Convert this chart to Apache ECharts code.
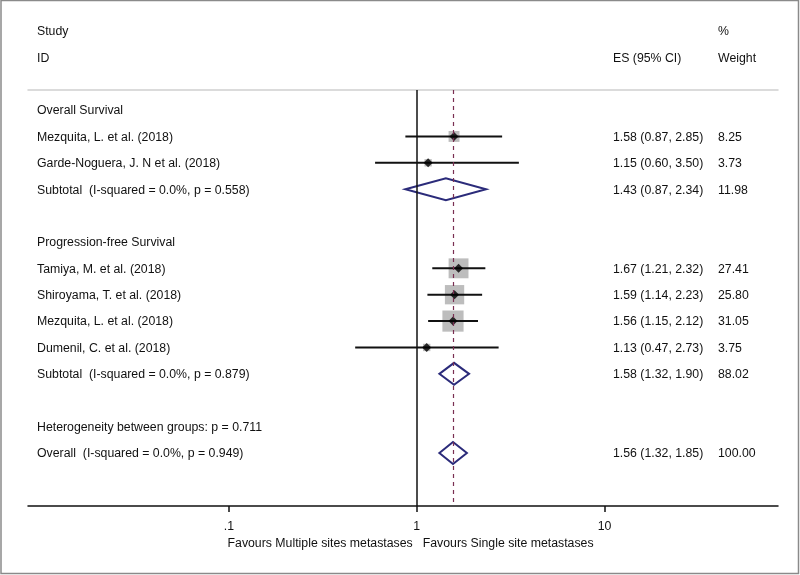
<!DOCTYPE html>
<html><head><meta charset="utf-8">
<script src="https://cdn.jsdelivr.net/npm/echarts@6/dist/echarts.min.js"></script>
<style>html,body{margin:0;padding:0;background:#fff}#c{width:800px;height:575px}</style>
</head><body><div id="c"></div>
<script>
// ---- data ----
const rowLabels = ['Overall Survival','Mezquita, L. et al. (2018)','Garde-Noguera, J. N et al. (2018)',
  'Subtotal  (I-squared = 0.0%, p = 0.558)','','Progression-free Survival','Tamiya, M. et al. (2018)',
  'Shiroyama, T. et al. (2018)','Mezquita, L. et al. (2018)','Dumenil, C. et al. (2018)',
  'Subtotal  (I-squared = 0.0%, p = 0.879)','','Heterogeneity between groups: p = 0.711',
  'Overall  (I-squared = 0.0%, p = 0.949)'];
const rowKind = ['head','study','study','pooled','blank','head','study','study','study','study','pooled','blank','head','pooled'];
const es     = [null,1.58,1.15,1.43,null,null,1.67,1.59,1.56,1.13,1.58,null,null,1.56];
const ciLow  = [null,0.87,0.60,0.87,null,null,1.21,1.14,1.15,0.47,1.32,null,null,1.32];
const ciHigh = [null,2.85,3.50,2.34,null,null,2.32,2.23,2.12,2.73,1.90,null,null,1.85];
const weight = [null,8.25,3.73,11.98,null,null,27.41,25.80,31.05,3.75,88.02,null,null,100.00];
const overallES = 1.56;
const tickValues = [0.1, 1, 10];
const tickLabels = ['.1', '1', '10'];
const headerStudy = ['Study', 'ID'];
const headerES = 'ES (95% CI)';
const headerWeight = ['%', 'Weight'];
const favoursLeft = 'Favours Multiple sites metastases';
const favoursRight = 'Favours Single site metastases';

// ---- chart ----
const FONT = "'Liberation Sans', Arial, sans-serif";
const FS = 12.3;
const TXT = '#111';
const chart = echarts.init(document.getElementById('c'), null, {renderer: 'canvas'});

const studyRows = [], pooledRows = [];
rowKind.forEach((k, i) => {
  if (k === 'study') studyRows.push([es[i], i, ciLow[i], ciHigh[i], weight[i]]);
  if (k === 'pooled') pooledRows.push([es[i], i, ciLow[i], ciHigh[i], weight[i]]);
});

const XMIN = 0.0085, XMAX = 84;
const option = {
  animation: false,
  backgroundColor: '#fff',
  grid: {left: 28, right: 22, top: 90, bottom: 69},
  xAxis: [{
    type: 'log', logBase: 10, min: XMIN, max: XMAX, position: 'bottom',
    axisLine: {show: true, onZero: false, lineStyle: {color: '#111', width: 1.5}},
    axisTick: {show: true, length: 6, lineStyle: {color: '#111', width: 1.5}, customValues: tickValues},
    axisLabel: {show: true, margin: 15, color: TXT, fontFamily: FONT, fontSize: FS,
      customValues: tickValues,
      formatter: v => { const i = tickValues.findIndex(t => Math.abs(t - v) < 1e-9); return i >= 0 ? tickLabels[i] : ''; }},
    splitLine: {show: false}, minorTick: {show: false}, minorSplitLine: {show: false}
  }, {
    type: 'log', logBase: 10, min: XMIN, max: XMAX, position: 'top',
    axisLine: {show: true, onZero: false, lineStyle: {color: '#cfcfcf', width: 1.5}},
    axisTick: {show: false}, axisLabel: {show: false}, splitLine: {show: false}
  }],
  yAxis: {type: 'value', inverse: true, min: -0.76, max: 15.01, show: false},
  series: [
    { // weight squares
      type: 'scatter', data: studyRows, symbol: 'rect',
      symbolSize: d => 3.8 * Math.sqrt(d[4]),
      itemStyle: {color: '#bdbdbd', opacity: 1}, z: 2,
      markLine: {
        silent: true, symbol: 'none', label: {show: false},
        data: [
          {xAxis: 1, lineStyle: {color: '#111', width: 1.5, type: 'solid'}},
          {xAxis: overallES, lineStyle: {color: '#7a2f52', width: 1.2, type: [4, 4]}}
        ]
      }
    },
    { // CI lines
      type: 'custom', z: 3,
      data: studyRows,
      renderItem: (params, api) => {
        const y = api.value(1);
        const a = api.coord([api.value(2), y]);
        const b = api.coord([api.value(3), y]);
        return {type: 'line', shape: {x1: a[0], y1: a[1], x2: b[0], y2: b[1]},
          style: {stroke: '#111', lineWidth: 2}};
      }
    },
    { // point estimates
      type: 'scatter', data: studyRows, symbol: 'diamond', symbolSize: 9,
      itemStyle: {color: '#000'}, z: 4
    },
    { // pooled diamonds
      type: 'custom', z: 4,
      data: pooledRows,
      renderItem: (params, api) => {
        const y = api.value(1);
        const c = api.coord([api.value(0), y]);
        const l = api.coord([api.value(2), y]);
        const r = api.coord([api.value(3), y]);
        const h = 11;
        return {type: 'polygon',
          shape: {points: [[l[0], c[1]], [c[0], c[1] - h], [r[0], c[1]], [c[0], c[1] + h]]},
          style: {fill: 'rgba(255,255,255,0)', stroke: '#2b2b7a', lineWidth: 2}};
      }
    }
  ]
};
chart.setOption(option);

// texts positioned from the axes
const yOf = r => chart.convertToPixel({gridIndex: 0}, [1, r])[1] + 1;
const xOne = chart.convertToPixel({xAxisIndex: 0}, 1);
const axisY = chart.convertToPixel({gridIndex: 0}, [1, 15.01])[1];
const COL_STUDY = 37, COL_ES = 613, COL_W = 718;
const txt = (x, y, s, align) => ({type: 'text', x: x, y: y, silent: true,
  style: {text: s, fill: TXT, font: FS + 'px ' + FONT, textAlign: align || 'left', textVerticalAlign: 'middle'}});
const g = [];
g.push({type: 'rect', shape: {x: 1, y: 0.5, width: 797.5, height: 573}, style: {fill: 'none', stroke: '#8a8a8a', lineWidth: 1.5}, silent: true});
g.push(txt(COL_STUDY, yOf(-3), headerStudy[0]));
g.push(txt(COL_STUDY, yOf(-2), headerStudy[1]));
g.push(txt(COL_ES, yOf(-2), headerES));
g.push(txt(COL_W, yOf(-3), headerWeight[0]));
g.push(txt(COL_W, yOf(-2), headerWeight[1]));
rowLabels.forEach((s, i) => {
  if (s) g.push(txt(COL_STUDY, yOf(i), s));
  if (es[i] != null) {
    g.push(txt(COL_ES, yOf(i), es[i].toFixed(2) + ' (' + ciLow[i].toFixed(2) + ', ' + ciHigh[i].toFixed(2) + ')'));
    g.push(txt(COL_W, yOf(i), weight[i].toFixed(2)));
  }
});
g.push(txt(xOne - 4, axisY + 38, favoursLeft, 'right'));
g.push(txt(xOne + 6, axisY + 38, favoursRight, 'left'));
chart.setOption({graphic: g});
</script>
</body></html>
